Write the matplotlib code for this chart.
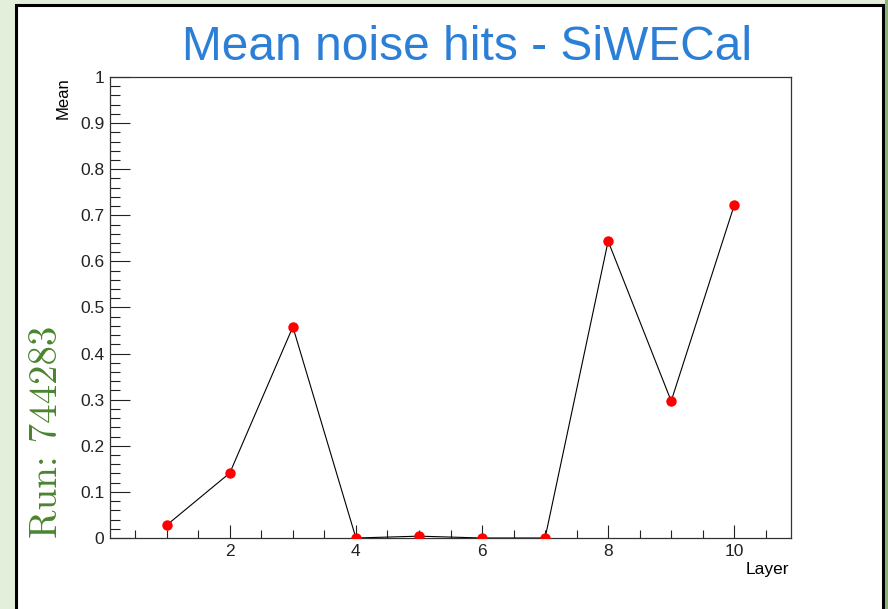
import matplotlib.pyplot as plt
from matplotlib.patches import Rectangle
from matplotlib.ticker import MultipleLocator, FormatStrFormatter

# data
layers = [1, 2, 3, 4, 5, 6, 7, 8, 9, 10]
means = [0.028, 0.141, 0.458, 0.0, 0.004, 0.0, 0.0, 0.644, 0.297, 0.722]

title = "Mean noise hits - SiWECal"
run_label = "Run: 744283"

W, H = 888, 609
plt.rcParams['font.family'] = ['Liberation Sans', 'DejaVu Sans']

fig = plt.figure(figsize=(W / 100, H / 100), dpi=100)
fig.patch.set_facecolor('#e4efdb')

def fx(px):
    return px / W

def fy(py):
    return 1 - py / H

# white pad with black frame, green strip on the right
fig.patches.append(Rectangle((fx(16), fy(620)), fx(883) - fx(16), fy(5) - fy(620),
                             transform=fig.transFigure, facecolor='white',
                             edgecolor='black', linewidth=2.2, zorder=-10))
fig.patches.append(Rectangle((fx(885), 0), fx(888) - fx(885), 1,
                             transform=fig.transFigure, facecolor='#8db374',
                             edgecolor='none', zorder=-10))

ax = fig.add_axes([fx(110), fy(538), fx(791) - fx(110), fy(77) - fy(538)])
ax.set_facecolor('white')
ax.plot(layers, means, color='black', linewidth=0.8, zorder=2)
ax.plot(layers, means, 'o', color='red', markersize=7.5, markeredgewidth=0, zorder=3)

ax.set_xlim(0.1, 10.9)
ax.set_ylim(0, 1)
ax.xaxis.set_major_locator(MultipleLocator(2))
ax.xaxis.set_minor_locator(MultipleLocator(0.5))
ax.yaxis.set_major_locator(MultipleLocator(0.1))
ax.yaxis.set_minor_locator(MultipleLocator(0.02))
ax.yaxis.set_major_formatter(FormatStrFormatter('%g'))
ax.xaxis.set_major_formatter(FormatStrFormatter('%g'))

ax.tick_params(axis='x', which='major', direction='in', length=9.5, width=0.8,
               labelsize=12.5, pad=4.5, colors='#222222')
ax.tick_params(axis='x', which='minor', direction='in', length=6, width=0.8, colors='#222222')
ax.tick_params(axis='y', which='major', direction='in', length=14.5, width=0.8,
               labelsize=12.5, pad=4, colors='#222222')
ax.tick_params(axis='y', which='minor', direction='in', length=7.5, width=0.8, colors='#222222')
for s in ax.spines.values():
    s.set_linewidth(0.9)
    s.set_color('#333333')

fig.text(fx(467), fy(60), title, color='#2c7fd6', fontsize=34.5,
         ha='center', va='baseline')
fig.text(fx(63), fy(77), "Mean", rotation=90, fontsize=12, ha='center', va='top')
fig.text(fx(789), fy(574), "Layer", fontsize=12.5, ha='right', va='baseline')
fig.text(fx(47), fy(538), run_label, rotation=90, fontsize=28, color='#4b8530',
         family=['cmr10', 'DejaVu Serif'], ha='center', va='bottom')

fig.savefig('out.png', dpi=100, facecolor=fig.get_facecolor())
